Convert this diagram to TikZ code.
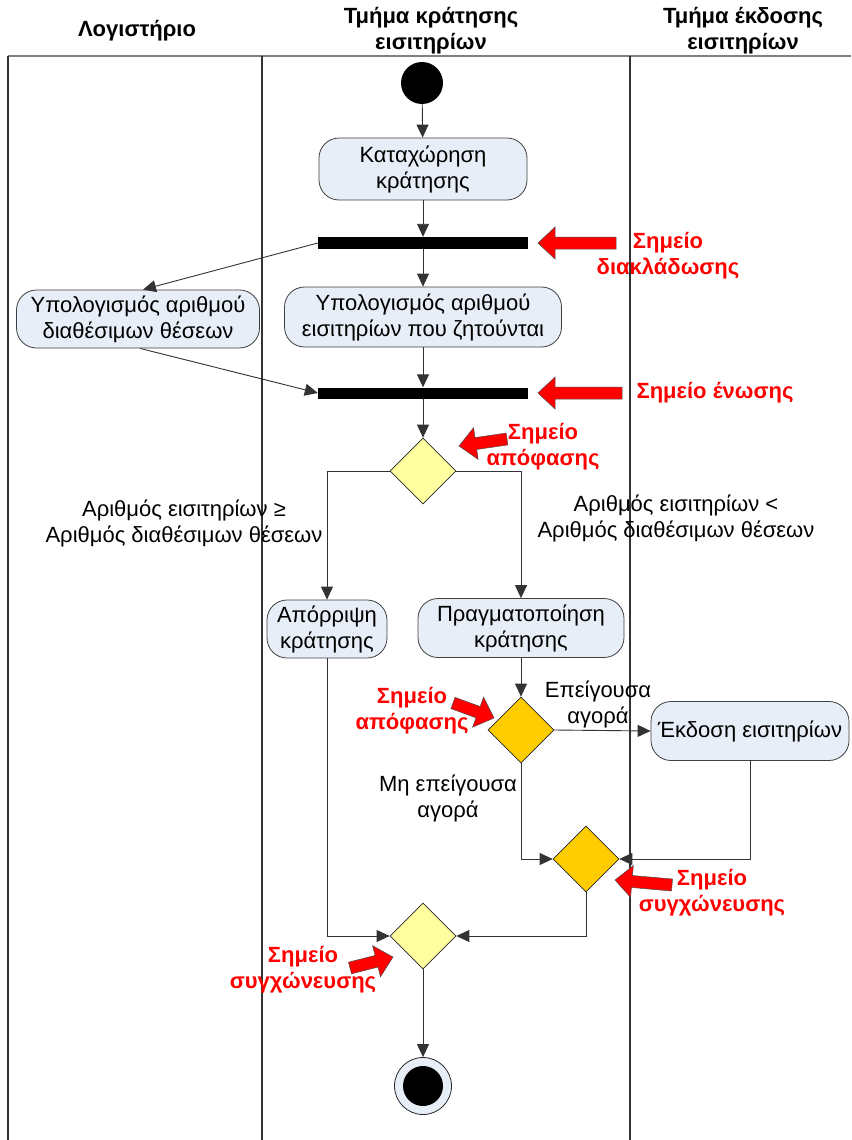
\documentclass[tikz,border=0pt]{standalone}
\usepackage{fontspec}
\setmainfont{Liberation Sans}
\usetikzlibrary{shapes.geometric,arrows.meta}
\definecolor{boxfill}{HTML}{E8EEF7}
\definecolor{decyel}{HTML}{FFFFA0}
\definecolor{decorg}{HTML}{FFCC00}
\definecolor{notered}{HTML}{FF0000}
\newcommand\diagtxt{\fontsize{22}{26}\selectfont}
\newcommand\blockarr[4]{%
  \begin{scope}[shift={(#1,#2)},rotate=#3]
    \filldraw[redblock] (0,-6) -- ({#4-17},-6) -- ({#4-17},-16) -- (#4,0) -- ({#4-17},16) -- ({#4-17},6) -- (0,6) -- cycle;
  \end{scope}}
\begin{document}
\begin{tikzpicture}[x=1pt,y=-1pt,
  act/.style={draw=black!75, fill=boxfill, rounded corners=20pt, line width=0.8pt, align=center, inner sep=0pt, font=\diagtxt},
  barnode/.style={fill=black, draw=none, minimum width=210pt, minimum height=12pt, inner sep=0pt},
  dec/.style={diamond, draw=black!85, line width=0.7pt, minimum width=66pt, minimum height=66pt, inner sep=0pt, aspect=1},
  lbl/.style={align=center, font=\diagtxt, inner sep=0pt},
  hdr/.style={align=center, font=\diagtxt\bfseries, inner sep=0pt},
  note/.style={align=center, font=\diagtxt\bfseries, text=notered, inner sep=0pt},
  flow/.style={draw=black!80, line width=0.9pt, -{Triangle[length=13pt,width=12pt]}},
  redblock/.style={fill=notered, draw=black!70, line width=0.5pt},
  lane/.style={draw=black!80, line width=1.2pt}]
\useasboundingbox (0,0) rectangle (851,1140);
% swimlanes
\draw[draw=black!50, line width=2pt] (8,56) -- (851,56);
\draw[lane] (8,56) -- (8,1140);
\draw[lane] (262,56) -- (262,1140);
\draw[lane] (630,56) -- (630,1140);
\node[hdr] (h1) at (137,31) {Λογιστήριο};
\node[hdr] (h2) at (431,31) {Τμήμα κράτησης\\εισιτηρίων};
\node[hdr] (h3) at (743,31) {Τμήμα έκδοσης\\εισιτηρίων};
% nodes
\node[circle, fill=black, minimum size=42pt, inner sep=0pt] (start) at (422,83) {};
\node[act, minimum width=208pt, minimum height=62pt] (reg) at (423,169) {Καταχώρηση\\κράτησης};
\node[barnode] (bar1) at (423,243) {};
\node[act, minimum width=277pt, minimum height=60pt] (calcT) at (423,317) {Υπολογισμός αριθμού\\εισιτηρίων που ζητούνται};
\node[act, minimum width=243pt, minimum height=58pt] (calcS) at (138,319) {Υπολογισμός αριθμού\\διαθέσιμων θέσεων};
\node[barnode, minimum height=11pt] (bar2) at (423,393) {};
\node[dec, fill=decyel] (d1) at (423,471) {};
\node[act, minimum width=120pt, minimum height=58pt] (rej) at (327,629) {Απόρριψη\\κράτησης};
\node[act, minimum width=206pt, minimum height=59pt] (make) at (521,628) {Πραγματοποίηση\\κράτησης};
\node[dec, fill=decorg] (d2) at (521,730) {};
\node[act, minimum width=198pt, minimum height=59pt] (issue) at (750,731) {Έκδοση εισιτηρίων};
\node[dec, fill=decorg] (d3) at (586,859) {};
\node[dec, fill=decyel] (d4) at (423,936) {};
\node[circle, draw=black!85, fill=boxfill, line width=0.8pt, minimum size=57pt, inner sep=0pt] (end) at (423,1086) {};
\node[circle, fill=black, minimum size=40pt, inner sep=0pt] (endin) at (423,1086) {};
% connectors
\draw[flow] (start) -- (reg);
\draw[flow] (reg) -- (bar1);
\draw[flow] (bar1) -- (calcT);
\draw[flow] (bar1.west) -- ([xshift=5pt]calcS.north);
\draw[flow] ([xshift=2pt]calcS.south) -- (bar2.west);
\draw[flow] (calcT) -- (bar2);
\draw[flow] (bar2) -- (d1);
\draw[flow] (d1.west) -| (rej.north);
\draw[flow] (d1.east) -| (make.north);
\draw[flow] (make) -- (d2);
\draw[flow] (d2.east) -- (issue.west);
\draw[flow] (d2.south) |- (d3.west);
\draw[flow] (issue.south) |- (d3.east);
\draw[flow] (rej.south) |- (d4.west);
\draw[flow] (d3.south) |- (d4.east);
\draw[flow] (d4.south) -- (end.north);
% guard labels
\node[lbl] (g1) at (184,523) {Αριθμός εισιτηρίων ≥\\Αριθμός διαθέσιμων θέσεων};
\node[lbl] (g2) at (676,518) {Αριθμός εισιτηρίων <\\Αριθμός διαθέσιμων θέσεων};
\node[lbl] (g3) at (598,704) {Επείγουσα\\αγορά};
\node[lbl] (g4) at (448,798) {Μη επείγουσα\\αγορά};
% red annotations
\blockarr{616}{243}{180}{78}
\blockarr{622}{393}{180}{84}
\blockarr{507}{439}{-171.7}{48.5}
\blockarr{453}{703}{-20.1}{43.7}
\blockarr{672}{885}{175}{57.2}
\blockarr{350}{968}{14.3}{44.4}
\node[note] (n1) at (668,256) {Σημείο\\διακλάδωσης};
\node[note] (n2) at (715,393) {Σημείο ένωσης};
\node[note] (n3) at (543,447) {Σημείο\\απόφασης};
\node[note] (n4) at (412,711) {Σημείο\\απόφασης};
\node[note] (n5) at (712,893) {Σημείο\\συγχώνευσης};
\node[note] (n6) at (303,970) {Σημείο\\συγχώνευσης};
\end{tikzpicture}
\end{document}
